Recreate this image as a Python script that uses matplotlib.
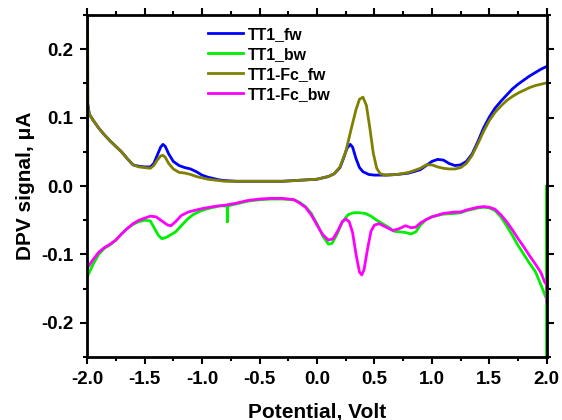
import matplotlib
matplotlib.use('Agg')
import matplotlib.pyplot as plt
from matplotlib.ticker import MultipleLocator

plt.rcParams['font.family'] = ['Liberation Sans', 'DejaVu Sans']
plt.rcParams['font.weight'] = 'bold'
plt.rcParams['axes.unicode_minus'] = False

# TT1_fw (blue)
v_tt1_fw = [-2.0, -1.995, -1.98, -1.95, -1.9, -1.85, -1.8, -1.75, -1.7, -1.65, -1.6, -1.55, -1.5, -1.45,
            -1.42, -1.39, -1.36, -1.34, -1.32, -1.29, -1.25, -1.2, -1.15, -1.1, -1.05, -1.0, -0.95, -0.9,
            -0.85, -0.8, -0.7, -0.6, -0.5, -0.4, -0.3, -0.2, -0.1, 0.0, 0.05, 0.1, 0.15, 0.2, 0.23, 0.26,
            0.29, 0.31, 0.34, 0.37, 0.4, 0.45, 0.5, 0.6, 0.7, 0.8, 0.9, 0.95, 1.0, 1.05, 1.1, 1.15, 1.2,
            1.25, 1.3, 1.35, 1.4, 1.45, 1.5, 1.55, 1.6, 1.65, 1.7, 1.75, 1.8, 1.85, 1.9, 1.95, 2.0]
i_tt1_fw = [0.0, 0.12, 0.105, 0.097, 0.085, 0.075, 0.066, 0.058, 0.05, 0.04, 0.031, 0.029, 0.028, 0.028,
            0.033, 0.045, 0.057, 0.061, 0.058, 0.047, 0.036, 0.03, 0.027, 0.025, 0.021, 0.016, 0.013, 0.011,
            0.009, 0.008, 0.007, 0.007, 0.007, 0.007, 0.007, 0.008, 0.009, 0.01, 0.012, 0.014, 0.018, 0.027, 0.04, 0.055,
            0.061, 0.057, 0.04, 0.027, 0.021, 0.017, 0.016, 0.016, 0.017, 0.019, 0.024, 0.03, 0.036, 0.039, 0.038, 0.033, 0.03,
            0.031, 0.036, 0.047, 0.065, 0.085, 0.101, 0.114, 0.124, 0.133, 0.142, 0.149, 0.155, 0.161, 0.166, 0.171, 0.175]

# TT1_bw (green)
v_tt1_bw = [-2.0, -1.95, -1.9, -1.85, -1.8, -1.75, -1.7, -1.65, -1.6, -1.55, -1.5, -1.45, -1.42, -1.38,
            -1.35, -1.31, -1.27, -1.23, -1.18, -1.13, -1.08, -1.02, -0.95, -0.9, -0.85, -0.8, -0.78, -0.78,
            -0.78, -0.75, -0.7, -0.6, -0.5, -0.4, -0.3, -0.2, -0.15, -0.1, -0.05, 0.0, 0.05, 0.1, 0.13, 0.17,
            0.22, 0.27, 0.32, 0.37, 0.42, 0.47, 0.52, 0.57, 0.62, 0.67, 0.72, 0.77, 0.82, 0.86, 0.9, 0.95,
            1.0, 1.1, 1.2, 1.25, 1.3, 1.4, 1.45, 1.5, 1.55, 1.6, 1.65, 1.7, 1.75, 1.8, 1.85, 1.9, 1.95, 1.98,
            1.997, 1.997, 1.997]
i_tt1_bw = [-0.133, -0.115, -0.1, -0.091, -0.086, -0.079, -0.07, -0.062, -0.056, -0.052, -0.05, -0.051, -0.06, -0.072,
            -0.077, -0.075, -0.071, -0.067, -0.058, -0.049, -0.042, -0.037, -0.033, -0.031, -0.029, -0.029, -0.029, -0.052,
            -0.029, -0.028, -0.026, -0.022, -0.02, -0.019, -0.019, -0.02, -0.024, -0.03, -0.04, -0.055, -0.073, -0.085, -0.084, -0.072,
            -0.053, -0.042, -0.039, -0.039, -0.04, -0.044, -0.05, -0.055, -0.06, -0.066, -0.067, -0.068, -0.07, -0.067, -0.057, -0.049,
            -0.045, -0.041, -0.04, -0.039, -0.036, -0.032, -0.031, -0.032, -0.036, -0.045, -0.058, -0.072, -0.087, -0.1, -0.113, -0.125, -0.145, -0.158,
            -0.165, 0.0, -0.25]

# TT1-Fc_fw (olive)
v_fc_fw = [-1.996, -1.996, -1.993, -1.98, -1.95, -1.9, -1.85, -1.8, -1.75, -1.7, -1.65, -1.6, -1.55, -1.5, -1.45,
           -1.42, -1.39, -1.36, -1.34, -1.32, -1.29, -1.25, -1.2, -1.15, -1.1, -1.05, -1.0, -0.95, -0.9,
           -0.85, -0.8, -0.7, -0.6, -0.5, -0.4, -0.3, -0.2, -0.1, 0.0, 0.05, 0.1, 0.15, 0.2, 0.25, 0.3,
           0.34, 0.37, 0.4, 0.43, 0.46, 0.49, 0.52, 0.55, 0.6, 0.7, 0.8, 0.9, 0.95, 1.0, 1.05, 1.1, 1.15,
           1.2, 1.25, 1.3, 1.35, 1.4, 1.45, 1.5, 1.55, 1.6, 1.65, 1.7, 1.75, 1.8, 1.85, 1.9, 1.95, 2.0]
i_fc_fw = [0.0, 0.25, 0.115, 0.105, 0.097, 0.085, 0.075, 0.066, 0.058, 0.05, 0.04, 0.031, 0.028, 0.027, 0.026,
           0.03, 0.038, 0.044, 0.045, 0.042, 0.033, 0.025, 0.02, 0.019, 0.017, 0.014, 0.012, 0.01, 0.009,
           0.008, 0.007, 0.007, 0.007, 0.007, 0.007, 0.007, 0.008, 0.009, 0.01, 0.012, 0.014, 0.018, 0.028, 0.05, 0.085,
           0.112, 0.127, 0.13, 0.118, 0.085, 0.048, 0.026, 0.018, 0.016, 0.017, 0.02, 0.026, 0.031, 0.031, 0.028, 0.026, 0.025,
           0.025, 0.027, 0.033, 0.045, 0.062, 0.08, 0.096, 0.108, 0.117, 0.125, 0.131, 0.136, 0.14, 0.144, 0.147, 0.149, 0.151]

# TT1-Fc_bw (magenta)
v_fc_bw = [-2.0, -1.95, -1.9, -1.85, -1.8, -1.75, -1.7, -1.65, -1.6, -1.55, -1.5, -1.45, -1.4, -1.35,
           -1.3, -1.27, -1.23, -1.18, -1.12, -1.05, -1.0, -0.9, -0.8, -0.7, -0.6, -0.5, -0.4, -0.3, -0.2,
           -0.15, -0.1, -0.05, 0.0, 0.05, 0.1, 0.14, 0.18, 0.22, 0.25, 0.28, 0.31, 0.34, 0.37, 0.39, 0.41,
           0.44, 0.47, 0.5, 0.54, 0.6, 0.66, 0.72, 0.77, 0.82, 0.86, 0.9, 0.95, 1.0, 1.1, 1.2, 1.25, 1.3,
           1.4, 1.45, 1.5, 1.55, 1.6, 1.65, 1.7, 1.75, 1.8, 1.85, 1.9, 1.95, 1.98, 2.0, 2.0]
i_fc_bw = [-0.12, -0.108, -0.097, -0.09, -0.085, -0.079, -0.07, -0.062, -0.055, -0.05, -0.047, -0.044, -0.045, -0.051,
           -0.057, -0.058, -0.052, -0.043, -0.038, -0.035, -0.033, -0.03, -0.028, -0.025, -0.021, -0.019, -0.018, -0.018, -0.02,
           -0.025, -0.031, -0.042, -0.057, -0.071, -0.079, -0.077, -0.066, -0.052, -0.048, -0.052, -0.068, -0.1, -0.126, -0.13, -0.122,
           -0.092, -0.066, -0.057, -0.055, -0.06, -0.065, -0.062, -0.058, -0.061, -0.06, -0.054, -0.049, -0.045, -0.04, -0.038, -0.038, -0.035,
           -0.031, -0.03, -0.031, -0.034, -0.042, -0.052, -0.064, -0.077, -0.089, -0.102, -0.114, -0.127, -0.14, -0.145, -0.17]

fig = plt.figure(figsize=(5.62, 4.2), dpi=100)
ax = fig.add_axes([0.155, 0.15, 0.818, 0.814])

lw = 2.0
ax.plot(v_tt1_fw, i_tt1_fw, color='#0000ff', lw=lw, label='TT1_fw')
ax.plot(v_tt1_bw, i_tt1_bw, color='#00ee00', lw=lw, label='TT1_bw')
ax.plot(v_fc_fw, i_fc_fw, color='#808000', lw=lw, label='TT1-Fc_fw')
ax.plot(v_fc_bw, i_fc_bw, color='#ff00ff', lw=lw, label='TT1-Fc_bw')

ax.set_xlim(-2.0, 2.0)
ax.set_ylim(-0.25, 0.25)
ax.xaxis.set_major_locator(MultipleLocator(0.5))
ax.xaxis.set_minor_locator(MultipleLocator(0.25))
ax.yaxis.set_major_locator(MultipleLocator(0.1))
ax.yaxis.set_minor_locator(MultipleLocator(0.05))
ax.tick_params(which='both', direction='out', top=True, right=True, width=1.5)
ax.tick_params(which='major', length=5, labelsize=13.5, pad=5)
ax.tick_params(which='minor', length=3)
for s in ax.spines.values():
    s.set_linewidth(2.0)
for t in ax.get_xticklabels() + ax.get_yticklabels():
    t.set_fontweight('bold')

ax.set_xlabel('Potential, Volt', fontsize=15, fontweight='bold', labelpad=11)
ax.set_ylabel('DPV signal, μA', fontsize=15, fontweight='bold', labelpad=4)

leg = ax.legend(loc='upper left', bbox_to_anchor=(0.263, 0.966), frameon=False, fontsize=11.4,
                handlelength=2.2, handletextpad=0.3, labelspacing=0.32,
                borderpad=0, borderaxespad=0)
for t in leg.get_texts():
    t.set_fontweight('bold')

fig.savefig('out.png', dpi=100)
